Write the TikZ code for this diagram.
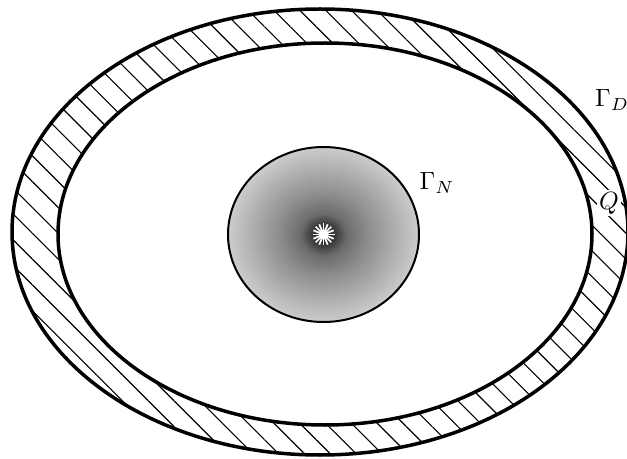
\documentclass[tikz,border=0pt]{standalone}
\usepackage{xcolor}
\usepackage{amsmath, amssymb}
\usepackage{tikz}
\usetikzlibrary{patterns.meta}

\pgfdeclareradialshading{glow}{\pgfpoint{0bp}{0bp}}{color(0bp)=(black!82); color(3bp)=(black!78); color(6bp)=(black!58); color(12bp)=(black!44); color(25bp)=(black!20); color(50bp)=(black!20)}

\begin{document}
\begin{tikzpicture}[x=0.4pt, y=-0.4pt]
    \useasboundingbox (0,0) rectangle (627,459);
    \coordinate (outer) at (320,232);
    \coordinate (inner) at (325,234);
    \coordinate (src) at (323.5,234.5);

    \path[even odd rule, pattern={Lines[angle=-45, distance=7.3pt, line width=0.45pt]}] (outer) ellipse [x radius=308, y radius=223] (inner) ellipse [x radius=267, y radius=191];
    \node[fill=white, inner sep=1pt] (Q) at (609,203) {$Q$};
    \draw[line width=1.4pt] (outer) ellipse [x radius=308, y radius=223];
    \draw[line width=1.4pt] (inner) ellipse [x radius=267, y radius=191];

    \shadedraw[shading=glow, line width=0.8pt] (src) ellipse [x radius=95.5, y radius=87.5];
    \foreach \a in {0,22.5,...,337.5} \draw[white, line width=0.7pt] (src) -- ++(\a:11);
    \fill[white] (src) circle (5);

    \node (GD) at (612,100) {$\Gamma_D$};
    \node (GN) at (437,183) {$\Gamma_N$};
\end{tikzpicture}
\end{document}
